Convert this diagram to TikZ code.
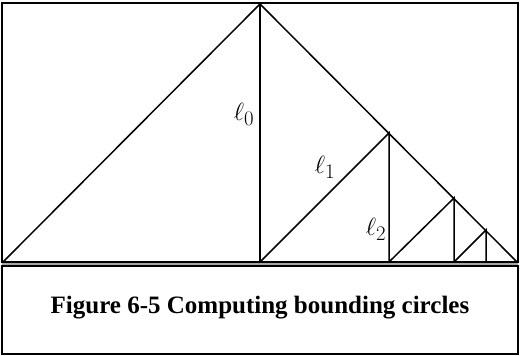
\documentclass[tikz,border=0pt]{standalone}
\usepackage{fontspec}
\setmainfont{Liberation Serif}
\begin{document}
\begin{tikzpicture}[x=1pt,y=-1pt,
  ln/.style={line width=1.5pt,black},
  lbl/.style={font=\fontsize{28}{28}\selectfont,inner sep=0pt}]
\useasboundingbox (0,0) rectangle (520,356);
% frames
\draw[ln] (2,3) rectangle (518,262);
\draw[ln] (2,266) rectangle (518,354);
\draw[line width=2.5pt,gray!70] (2,264) -- (518,264);
\draw[ln] (2,262) -- (518,262);
\draw[ln] (2,266) -- (518,266);
% points
\coordinate (L) at (3,262);
\coordinate (A) at (260,4);
\coordinate (R) at (517,262);
\coordinate (B0) at (260,262);
\coordinate (T1) at (389,133);
\coordinate (B1) at (389,262);
\coordinate (T2) at (454,198);
\coordinate (B2) at (454,262);
\coordinate (T3) at (486,230);
\coordinate (B3) at (486,262);
% triangle
\draw[ln,line join=miter] (L) -- (A) -- (R);
\draw[ln] (A) -- (B0);
\draw[ln] (B0) -- (T1) -- (B1);
\draw[ln] (B1) -- (T2) -- (B2);
\draw[ln] (B2) -- (T3) -- (B3);
% labels
\node[lbl] (l0) at (244,114) {$\ell_0$};
\node[lbl] (l1) at (325,167) {$\ell_1$};
\node[lbl] (l2) at (376,229) {$\ell_2$};
% caption
\node[font=\bfseries\fontsize{25}{25}\selectfont,inner sep=0pt] (cap) at (260,308) {Figure 6-5 Computing bounding circles};
\end{tikzpicture}
\end{document}
